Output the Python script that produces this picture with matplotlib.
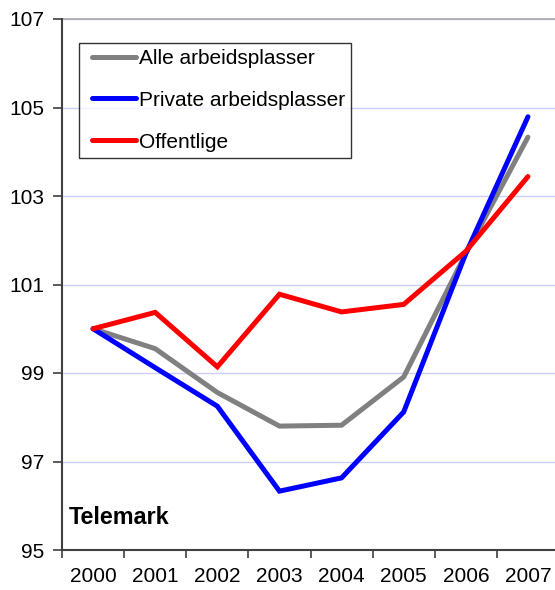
import matplotlib
matplotlib.use("Agg")
import matplotlib.pyplot as plt
from matplotlib.legend_handler import HandlerLine2D
from matplotlib.lines import Line2D

years = ["2000", "2001", "2002", "2003", "2004", "2005", "2006", "2007"]
alle = [100.0, 99.55, 98.56, 97.80, 97.82, 98.91, 101.70, 104.33]
private = [100.0, 99.12, 98.25, 96.33, 96.63, 98.12, 101.70, 104.79]
offentlige = [100.0, 100.37, 99.14, 100.78, 100.38, 100.55, 101.75, 103.44]
yticks = [95, 97, 99, 101, 103, 105, 107]

plt.rcParams['font.family'] = ['Liberation Sans', 'DejaVu Sans']

fig = plt.figure(figsize=(5.55, 5.9), dpi=100)
ax = fig.add_axes([62/555, 40/590, 497/555, 531/590])

x = list(range(len(years)))
lw = 3.6
ax.plot(x, alle, color='#808080', lw=lw, label='Alle arbeidsplasser', solid_capstyle='round', solid_joinstyle='miter', zorder=3)
ax.plot(x, private, color='#0000ff', lw=lw, label='Private arbeidsplasser', solid_capstyle='round', solid_joinstyle='miter', zorder=4)
ax.plot(x, offentlige, color='#ff0000', lw=lw, label='Offentlige', solid_capstyle='round', solid_joinstyle='miter', zorder=5)

ax.set_xlim(-0.5, len(years) - 0.5)
ax.set_ylim(95, 107)
ax.set_yticks(yticks)
ax.set_yticklabels([str(t) for t in yticks], fontsize=15)
ax.yaxis.grid(True, color='#ccccff', lw=1)
ax.set_axisbelow(True)
ax.axhline(107, color='#a8a8a8', lw=1.2, zorder=1, clip_on=False)

# category axis: ticks at boundaries, labels at centers
ax.set_xticks([i - 0.5 for i in range(len(years) + 1)])
ax.set_xticklabels([])
ax.set_xticks(x, minor=True)
ax.set_xticklabels(years, minor=True, fontsize=15)
ax.tick_params(axis='x', which='minor', length=0, pad=12)
ax.tick_params(axis='x', which='major', length=6, width=1.2, color='#404040', direction='out')
ax.tick_params(axis='y', length=6.5, width=1.2, color='#404040', direction='out', pad=6.5)

for s in ['top', 'right']:
    ax.spines[s].set_visible(False)
for s in ['left', 'bottom']:
    ax.spines[s].set_color('#404040')
    ax.spines[s].set_linewidth(1.5)

hm = {Line2D: HandlerLine2D(xpad=0.35)}
leg = ax.legend(loc='upper left', bbox_to_anchor=(17/497, (550-43)/531), borderaxespad=0,
                fontsize=15, frameon=True, fancybox=False, edgecolor='black',
                handlelength=2.45, handletextpad=0.15, labelspacing=1.1,
                borderpad=0.28, handler_map=hm)
leg.get_frame().set_linewidth(1)

ax.text(7/497, (550-517)/531, 'Telemark', transform=ax.transAxes, fontsize=16.8,
        fontweight='bold', va='center', ha='left')

fig.savefig('out.png', dpi=100)
